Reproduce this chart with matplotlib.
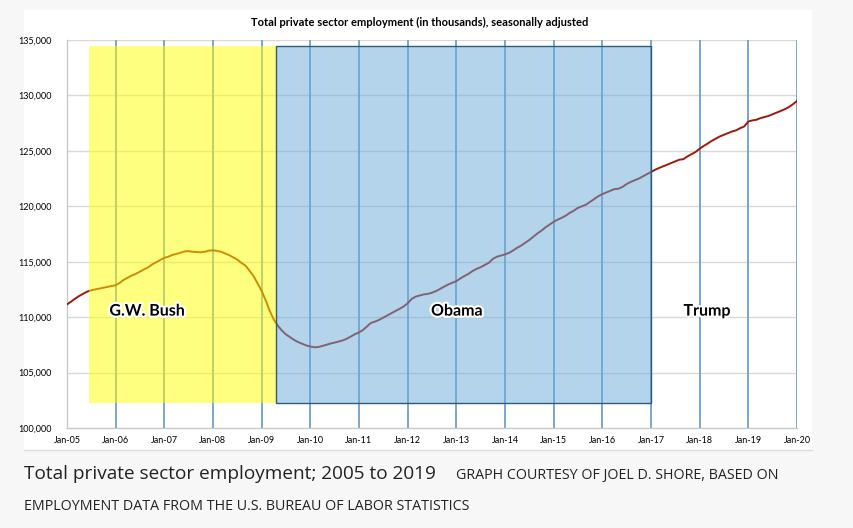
import datetime as dt
import matplotlib
matplotlib.use("Agg")
import matplotlib.pyplot as plt
import matplotlib.dates as mdates
import matplotlib.patheffects as pe
from matplotlib.patches import Rectangle

# monthly private sector employment (thousands), Jan 2005 .. Jan 2020
emp_2005 = [111150, 111400, 111650, 111900, 112100, 112300, 112420, 112500, 112580, 112650, 112730, 112800]
emp_2006 = [112880, 113100, 113350, 113550, 113750, 113900, 114100, 114300, 114480, 114750, 114950, 115150]
emp_2007 = [115350, 115450, 115600, 115700, 115800, 115930, 115950, 115900, 115870, 115850, 115900, 116000]
emp_2008 = [116030, 115980, 115900, 115750, 115600, 115400, 115200, 114900, 114650, 114200, 113700, 113050]
emp_2009 = [112350, 111500, 110600, 109800, 109250, 108800, 108450, 108200, 107950, 107750, 107600, 107450]
emp_2010 = [107350, 107280, 107300, 107400, 107500, 107620, 107700, 107800, 107900, 108050, 108250, 108460]
emp_2011 = [108620, 108850, 109150, 109480, 109600, 109750, 109950, 110150, 110350, 110550, 110750, 110950]
emp_2012 = [111250, 111650, 111850, 111950, 112050, 112100, 112200, 112350, 112550, 112750, 112950, 113100]
emp_2013 = [113250, 113500, 113700, 113900, 114150, 114350, 114500, 114700, 114900, 115250, 115450, 115550]
emp_2014 = [115660, 115800, 116000, 116250, 116450, 116700, 116950, 117250, 117550, 117800, 118100, 118350]
emp_2015 = [118600, 118800, 118950, 119150, 119400, 119600, 119850, 120000, 120150, 120400, 120650, 120900]
emp_2016 = [121100, 121250, 121400, 121550, 121580, 121750, 122000, 122200, 122350, 122500, 122700, 122900]
emp_2017 = [123100, 123300, 123450, 123600, 123750, 123900, 124050, 124200, 124250, 124500, 124700, 124900]
emp_2018 = [125200, 125450, 125650, 125900, 126100, 126300, 126450, 126600, 126750, 126850, 127050, 127200]
emp_2019 = [127650, 127750, 127800, 127950, 128050, 128150, 128300, 128450, 128600, 128750, 128950, 129200]
emp_2020 = [129500]

yearly = [emp_2005, emp_2006, emp_2007, emp_2008, emp_2009, emp_2010, emp_2011, emp_2012,
          emp_2013, emp_2014, emp_2015, emp_2016, emp_2017, emp_2018, emp_2019, emp_2020]

# presidency shading boxes (start, end, label, label x)
eras = [
    (dt.date(2005, 6, 15), dt.date(2009, 4, 20), "G.W. Bush", dt.date(2006, 8, 25)),
    (dt.date(2009, 4, 20), dt.date(2016, 12, 28), "Obama", dt.date(2013, 1, 5)),
    (None, None, "Trump", dt.date(2018, 2, 25)),
]
box_bottom, box_top = 102250, 134450

dates, values = [], []
for i, yr in enumerate(yearly):
    for m, v in enumerate(yr):
        dates.append(dt.date(2005 + i, m + 1, 1))
        values.append(v)

fig = plt.figure(figsize=(8.54, 5.28), dpi=100)
fig.patch.set_facecolor("#f7f7f7")
# white card behind the chart
fig.add_artist(Rectangle((24 / 854, 1 - 450 / 528), (812 - 24) / 854, (450 - 10) / 528,
                         transform=fig.transFigure, facecolor="white", edgecolor="none", zorder=0))
fig.add_artist(plt.Line2D([24 / 854, 812 / 854], [1 - 450 / 528] * 2, transform=fig.transFigure,
                          color="#dcdcdc", lw=1))

ax = fig.add_axes([67 / 854, 1 - 428 / 528, (797 - 67) / 854, (428 - 40) / 528])
ax.set_facecolor("white")

ax.plot(dates, values, color="#9c1a0a", lw=1.4, zorder=3)

for start, end, name, lx in eras:
    if start is None:
        continue
    s, e = mdates.date2num(start), mdates.date2num(end)
    if name == "G.W. Bush":
        ax.add_patch(Rectangle((s, box_bottom), e - s, box_top - box_bottom,
                               facecolor="#ffff00", alpha=0.5, edgecolor="none", zorder=4))
    else:
        ax.add_patch(Rectangle((s, box_bottom), e - s, box_top - box_bottom,
                               facecolor="#6aaad8", alpha=0.5, edgecolor="none", zorder=4))
        ax.add_patch(Rectangle((s, box_bottom), e - s, box_top - box_bottom,
                               facecolor="none", edgecolor="#2f5b7f", lw=1.0, zorder=5))

for start, end, name, lx in eras:
    ax.text(lx, 110500, name, ha="center", va="center", fontsize=11.5, fontweight="bold",
            family="Lato", color="black", zorder=6,
            path_effects=[pe.withStroke(linewidth=3, foreground="white")])

ax.set_xlim(mdates.date2num(dt.date(2005, 1, 1)), mdates.date2num(dt.date(2020, 1, 1)))
ax.set_ylim(100000, 135000)

years = list(range(2005, 2021))
ax.set_xticks([dt.date(y, 1, 1) for y in years])
ax.set_xticklabels([f"Jan-{y % 100:02d}" for y in years], fontsize=6.5, family="Lato")
ax.set_yticks(range(100000, 135001, 5000))
ax.set_yticklabels([f"{v:,}" for v in range(100000, 135001, 5000)], fontsize=6.5, family="Lato")
ax.tick_params(length=0, pad=6)
ax.tick_params(axis="y", pad=11)

for v in range(105000, 135001, 5000):
    ax.axhline(v, color="#d9d9d9", lw=1, zorder=1)
for y in years[1:]:
    ax.axvline(dt.date(y, 1, 1), color="#7aa6cc", lw=1.4, zorder=2)

for side in ["top", "right"]:
    ax.spines[side].set_visible(False)
for side in ["left", "bottom"]:
    ax.spines[side].set_color("#c8c8c8")
    ax.spines[side].set_linewidth(1)

fig.text(420 / 854, 1 - 22 / 528, "Total private sector employment (in thousands), seasonally adjusted",
         ha="center", va="center", fontsize=8, fontweight="bold", family="Lato")

fig.text(24 / 854, 1 - 474 / 528, "Total private sector employment; 2005 to 2019",
         ha="left", va="center", fontsize=13.7, family="Open Sans", color="#222222")
fig.text(456 / 854, 1 - 476 / 528, "GRAPH COURTESY OF JOEL D. SHORE, BASED ON",
         ha="left", va="center", fontsize=10.3, family="Open Sans", color="#222222")
fig.text(24 / 854, 1 - 506 / 528, "EMPLOYMENT DATA FROM THE U.S. BUREAU OF LABOR STATISTICS",
         ha="left", va="center", fontsize=10.3, family="Open Sans", color="#222222")

fig.savefig("out.png", dpi=100, facecolor=fig.get_facecolor())
